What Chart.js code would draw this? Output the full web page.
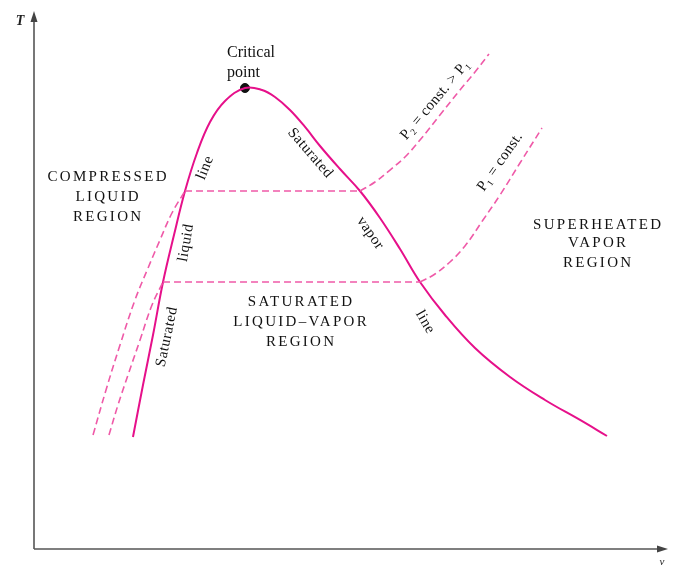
<!DOCTYPE html>
<html>
<head>
<meta charset="utf-8">
<script src="https://cdn.jsdelivr.net/npm/chart.js@4.4.1/dist/chart.umd.min.js"></script>
<style>
html,body{margin:0;padding:0;background:#fff;}
#wrap{width:676px;height:567px;position:relative;}
</style>
</head>
<body>
<div id="wrap"><canvas id="c" width="676" height="567"></canvas></div>
<script>
// ---- data (arbitrary units: v along x 0..100, T along y 0..100) ----
const satLiqV = [15.71, 17.30, 18.89, 20.48, 22.22, 23.97, 25.87, 27.94, 30.32, 33.49];
const satLiqT = [20.97, 30.71, 40.07, 50.0, 58.80, 67.04, 74.16, 79.96, 83.90, 86.33];

const satVapV = [33.49, 36.19, 38.25, 40.63, 43.02, 45.40, 48.57, 51.75, 54.92, 58.10, 61.27, 65.24, 70.0, 75.56, 81.11, 86.67, 90.95];
const satVapT = [86.33, 85.96, 84.64, 82.21, 79.03, 75.47, 71.16, 67.04, 61.99, 56.18, 50.0, 43.82, 37.64, 32.21, 27.90, 24.16, 21.16];

// P2 isobar: compressed liquid part, saturation (horizontal) part, superheated part
const p2LiqV = [9.37, 11.43, 13.65, 16.03, 18.10, 20.0, 21.90, 23.97];
const p2LiqT = [21.35, 29.78, 38.20, 46.63, 52.62, 57.87, 62.92, 67.04];
const p2SatV = [23.97, 51.75];
const p2SatT = [67.04, 67.04];
const p2VapV = [51.75, 54.13, 56.51, 58.89, 61.27, 64.44, 67.62, 70.0, 72.22];
const p2VapT = [67.04, 68.73, 70.97, 73.41, 76.59, 81.27, 85.96, 89.33, 92.70];

// P1 isobar
const p1LiqV = [11.90, 13.33, 14.92, 16.83, 18.73, 20.48];
const p1LiqT = [21.35, 26.97, 32.58, 39.14, 45.69, 50.0];
const p1SatV = [20.48, 61.27];
const p1SatT = [50.0, 50.0];
const p1VapV = [61.27, 63.65, 66.03, 68.41, 71.27, 73.97, 77.14, 80.63];
const p1VapT = [50.0, 51.50, 53.75, 56.74, 61.61, 66.29, 72.28, 78.84];

const criticalV = [33.49];
const criticalT = [86.33];

// text labels
const labelTexts = ['Critical', 'point', 'Saturated', 'vapor', 'line', 'line', 'liquid', 'Saturated',
  'P\u2082 = const. > P\u2081', 'P\u2081 = const.',
  'COMPRESSED', 'LIQUID', 'REGION',
  'SATURATED', 'LIQUID\u2013VAPOR', 'REGION',
  'SUPERHEATED', 'VAPOR', 'REGION'];
const labelV = [30.63, 30.63, 43.81, 53.33, 62.06, 27.14, 24.13, 21.11, 63.65, 73.97,
  11.59, 11.59, 11.59, 42.22, 42.22, 42.22, 89.37, 89.37, 89.37];
const labelT = [92.88, 89.14, 74.16, 59.18, 42.51, 71.35, 57.30, 39.70, 84.08, 72.47,
  69.66, 65.92, 62.17, 46.25, 42.51, 38.76, 60.67, 57.30, 53.56];

// ---- styling (separate from data) ----
const SERIF = '"Liberation Serif", "DejaVu Serif", serif';
const labelStyle = [
  {rot:0, align:'left', font:'16px ' + SERIF, sp:0},
  {rot:0, align:'left', font:'16px ' + SERIF, sp:0},
  {rot:49, align:'center', font:'15px ' + SERIF, sp:0.5},
  {rot:55, align:'center', font:'15px ' + SERIF, sp:0.5},
  {rot:60, align:'center', font:'15px ' + SERIF, sp:0.5},
  {rot:-68, align:'center', font:'15px ' + SERIF, sp:0.5},
  {rot:-80, align:'center', font:'15px ' + SERIF, sp:0.5},
  {rot:-78, align:'center', font:'15px ' + SERIF, sp:0.5},
  {rot:-50, align:'center', font:'15px ' + SERIF, sp:0.3},
  {rot:-55, align:'center', font:'15px ' + SERIF, sp:0.3},
];
const capsStyle = {rot:0, align:'center', font:'15px ' + SERIF, sp:2.3};

const SOLID = '#e6108a';
const DASH = '#ef5aa8';

function pts(xs, ys){ return xs.map((x,i)=>({x:x, y:ys[i]})); }

function lineDs(data, dashed, curved){
  return {
    type:'line',
    data: data,
    borderColor: dashed ? DASH : SOLID,
    borderWidth: dashed ? 1.6 : 2,
    borderDash: dashed ? [7,4] : [],
    pointRadius: 0,
    cubicInterpolationMode: 'default',
    tension: curved ? 0.4 : 0,
    fill: false
  };
}

const domeData = pts(satLiqV, satLiqT).concat(pts(satVapV, satVapT).slice(1));

const textPlugin = {
  id:'texts',
  afterDatasetsDraw(chart){
    const ctx = chart.ctx, xs = chart.scales.x, ys = chart.scales.y;
    ctx.save();
    ctx.strokeStyle = '#555'; ctx.fillStyle = '#444'; ctx.lineWidth = 1.6;
    const x0 = xs.getPixelForValue(0), y0 = ys.getPixelForValue(0);
    const yTop = ys.getPixelForValue(100), xRight = xs.getPixelForValue(100);
    ctx.beginPath(); ctx.moveTo(x0, y0); ctx.lineTo(x0, yTop + 4); ctx.stroke();
    ctx.beginPath(); ctx.moveTo(x0, y0); ctx.lineTo(xRight - 4, y0); ctx.stroke();
    ctx.beginPath(); ctx.moveTo(x0, yTop - 4); ctx.lineTo(x0 - 3.5, yTop + 7); ctx.lineTo(x0 + 3.5, yTop + 7); ctx.closePath(); ctx.fill();
    ctx.beginPath(); ctx.moveTo(xRight + 4, y0); ctx.lineTo(xRight - 7, y0 - 3.5); ctx.lineTo(xRight - 7, y0 + 3.5); ctx.closePath(); ctx.fill();
    ctx.fillStyle = '#222';
    ctx.font = 'italic bold 14px ' + SERIF;
    ctx.textAlign = 'center'; ctx.textBaseline = 'middle';
    ctx.fillText('T', x0 - 14, yTop + 6);
    ctx.font = 'italic 11px ' + SERIF;
    ctx.fillText('v', xRight - 2, y0 + 13);

    ctx.fillStyle = '#111';
    for (let i = 0; i < labelTexts.length; i++){
      const st = i < labelStyle.length ? labelStyle[i] : capsStyle;
      const px = xs.getPixelForValue(labelV[i]);
      const py = ys.getPixelForValue(labelT[i]);
      ctx.save();
      ctx.translate(px, py);
      ctx.rotate(st.rot * Math.PI / 180);
      ctx.font = st.font;
      ctx.letterSpacing = st.sp + 'px';
      ctx.textAlign = st.align;
      ctx.textBaseline = 'middle';
      ctx.fillText(labelTexts[i], st.align === 'center' ? st.sp/2 : 0, 0);
      ctx.restore();
    }
    ctx.restore();
  }
};

new Chart(document.getElementById('c'), {
  type:'line',
  data:{
    datasets:[
      lineDs(pts(p2LiqV, p2LiqT), true, true),
      lineDs(pts(p2SatV, p2SatT), true, false),
      lineDs(pts(p2VapV, p2VapT), true, true),
      lineDs(pts(p1LiqV, p1LiqT), true, true),
      lineDs(pts(p1SatV, p1SatT), true, false),
      lineDs(pts(p1VapV, p1VapT), true, true),
      lineDs(domeData, false, true),
      {
        type:'scatter',
        data: pts(criticalV, criticalT),
        pointRadius: 4.5,
        pointBackgroundColor:'#111',
        pointBorderColor:'#111',
        showLine:false
      }
    ]
  },
  options:{
    responsive:false,
    animation:false,
    layout:{padding:{left:34, top:15, right:12, bottom:18}},
    plugins:{legend:{display:false}, tooltip:{enabled:false}},
    scales:{
      x:{type:'linear', min:0, max:100, display:false},
      y:{type:'linear', min:0, max:100, display:false}
    }
  },
  plugins:[textPlugin]
});
</script>
</body>
</html>
